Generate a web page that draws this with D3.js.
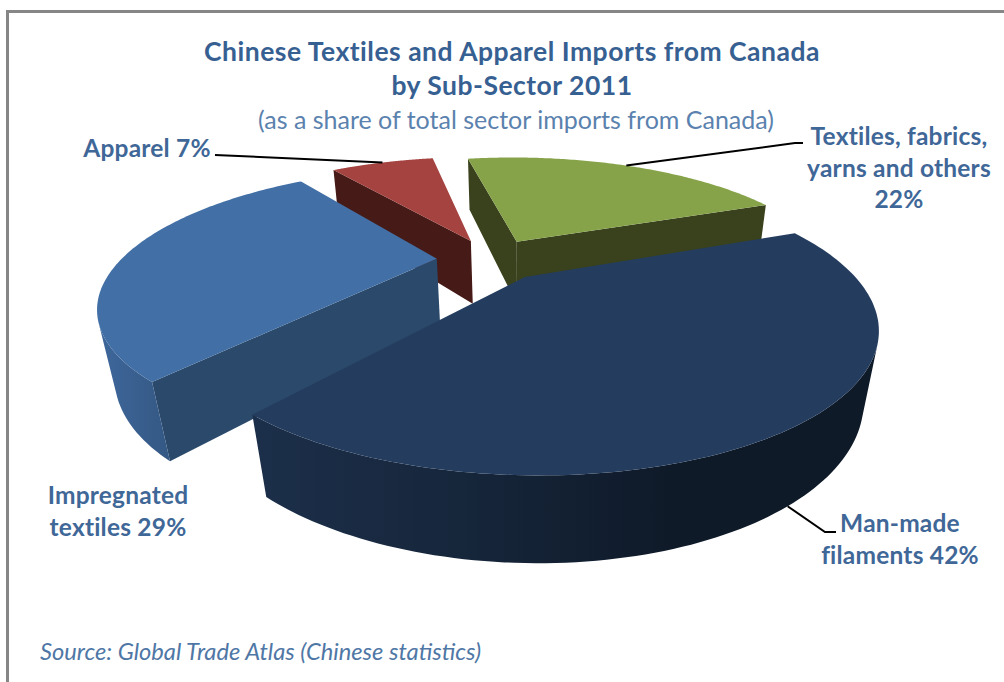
<!DOCTYPE html>
<html>
<head>
<meta charset="utf-8">
<script src="https://cdn.jsdelivr.net/npm/d3@7"></script>
<style>
  html, body { margin: 0; padding: 0; background: #fff; }
  svg { display: block; }
  text { font-family: Lato, "Open Sans", sans-serif; }
</style>
</head>
<body>
<svg id="chart" width="1004" height="682"></svg>
<script>
// Sub-sector shares, in clockwise order from the top of the pie
const categories = ["Textiles, fabrics, yarns and others", "Man-made filaments", "Impregnated textiles", "Apparel"];
const shares = [22, 42, 29, 7];
const topColors = ["#87a34a", "#243d5f", "#426fa5", "#a54340"];
const cutColors = ["#39421d", "#1b2d45", "#2b4a6b", "#451a17"];
const wallColors = [["#39421d", "#39421d"], ["#1c2f4a", "#16263b", "#0f1a29", "#0f1a29"], ["#3e679b", "#345884"], ["#451a17", "#451a17"]];

const titleLines = ["Chinese Textiles and Apparel Imports from Canada", "by Sub-Sector 2011"];
const subtitle = "(as a share of total sector imports from Canada)";
const sourceNote = "Source: Global Trade Atlas (Chinese statistics)";
const labelLines = [
  ["Textiles, fabrics,", "yarns and others", "22%"],
  ["Man-made", "filaments 42%"],
  ["Impregnated", "textiles 29%"],
  ["Apparel 7%"]
];

// Layout of the labels and leader lines
const labelAnchor = [[899, 145], [900, 532], [118, 504], [147, 157]];
const labelStep = 31.5;
const leaderBend = [[[795, 143], [803, 143]], [[825, 532], [836, 532]], null, [[215, 155]]];

// Off-axis perspective camera for the tilted pie
const origin = { x: 525, y: 277 };
const camera = { a: 337, b: 135, k: 0.34, drop: 70, recede: 0.04, shear: 0.07 };
const radius = 0.98, explode = 0.17;

function project(u, v, z) {
  const w = 1 - camera.k * v + camera.recede * z;
  const sheared = camera.shear * camera.b * v / w;
  return [origin.x + camera.a * u / w + sheared, origin.y + (camera.b * v + camera.drop * z) / w];
}
const dir = a => [Math.sin(a), -Math.cos(a)];

const svg = d3.select("#chart");
const defs = svg.append("defs");

// Frame of the chart area
svg.append("rect").attr("x", 7.5).attr("y", 11.5).attr("width", 1040).attr("height", 720)
  .attr("fill", "#fff").attr("stroke", "#868686").attr("stroke-width", 3);

const pie = d3.pie().sort(null).startAngle(-11 * Math.PI / 180).endAngle(349 * Math.PI / 180);
const arcs = pie(shares).map((d, i) => {
  const mid = (d.startAngle + d.endAngle) / 2;
  // every wedge slides out along its own bisector; the big one sets the plane origin
  return { ...d, i, mid, off: dir(mid) };
});
const navy = arcs[1];
const centre = [-explode * navy.off[0], -explode * navy.off[1]];
arcs.forEach(d => { d.apex = [centre[0] + explode * d.off[0], centre[1] + explode * d.off[1]]; });

const rim = (d, a) => { const p = dir(a); return [d.apex[0] + radius * p[0], d.apex[1] + radius * p[1]]; };
const poly = d3.line();
const shoelace = pts => d3.sum(pts, (p, i) => { const q = pts[(i + 1) % pts.length]; return p[0] * q[1] - q[0] * p[1]; });

const pieG = svg.append("g");
arcs.slice().sort((a, b) => a.apex[1] - b.apex[1]).forEach(d => {
  const steps = d3.range(0, 121).map(t => d.startAngle + (d.endAngle - d.startAngle) * t / 120);
  const ring = [d.apex, ...steps.map(a => rim(d, a))];
  const g = pieG.append("g");

  // walls: keep only the edges whose side faces the camera
  const quads = ring.map((p, j) => {
    const q = ring[(j + 1) % ring.length];
    const pts = [project(p[0], p[1], 0), project(q[0], q[1], 0), project(q[0], q[1], 1), project(p[0], p[1], 1)];
    return { pts, curved: j > 0 && j < ring.length - 1 };
  }).filter(q => shoelace(q.pts) < 0);

  g.selectAll("path.cut").data(quads.filter(q => !q.curved)).join("path").attr("class", "cut")
    .attr("d", q => poly(q.pts) + "Z")
    .attr("fill", cutColors[d.i]);

  // the curved wall is one band shaded from left to right
  const curved = quads.filter(q => q.curved);
  if (curved.length) {
    const band = [...curved.map(q => q.pts[0]), curved[curved.length - 1].pts[1],
                  curved[curved.length - 1].pts[2], ...curved.map(q => q.pts[3]).reverse()];
    const xs = d3.extent(band, p => p[0]);
    const stops = wallColors[d.i];
    const grad = defs.append("linearGradient").attr("id", "wall" + d.i)
      .attr("gradientUnits", "userSpaceOnUse")
      .attr("x1", xs[0]).attr("x2", xs[1]).attr("y1", 0).attr("y2", 0);
    grad.selectAll("stop").data(stops).join("stop")
      .attr("offset", (c, k) => k / (stops.length - 1)).attr("stop-color", c => c);
    g.append("path").attr("d", poly(band) + "Z").attr("fill", "url(#wall" + d.i + ")");
  }

  g.append("path").attr("d", poly(ring.map(p => project(p[0], p[1], 0))) + "Z")
    .attr("fill", topColors[d.i]);
});

// Leader lines from each wedge's rim out to its label
arcs.forEach(d => {
  if (!leaderBend[d.i]) return;
  const r = rim(d, d.mid);
  const onFront = d.off[1] > 0;
  const start = project(r[0], r[1], onFront ? 1 : 0);
  svg.append("path").attr("d", poly([start, ...leaderBend[d.i]]))
    .attr("fill", "none").attr("stroke", "#000").attr("stroke-width", 2);
});

// Labels
const ink = "#3f6797";
labelLines.forEach((lines, i) => {
  const [x, y] = labelAnchor[i];
  lines.forEach((line, j) => {
    svg.append("text").attr("x", x).attr("y", y + j * labelStep)
      .attr("text-anchor", "middle").attr("font-size", 24.5).attr("font-weight", 700)
      .attr("letter-spacing", 0.2).attr("fill", ink).text(line);
  });
});

// Title block
titleLines.forEach((line, j) => {
  svg.append("text").attr("x", 512).attr("y", 61 + j * 34)
    .attr("text-anchor", "middle").attr("font-size", 26.5).attr("font-weight", 700)
    .attr("letter-spacing", 0.5).attr("fill", "#376092").text(line);
});
svg.append("text").attr("x", 516).attr("y", 129).attr("text-anchor", "middle")
  .attr("font-size", 25).attr("fill", "#5b82ae").text(subtitle);
svg.append("text").attr("x", 40).attr("y", 660).attr("font-size", 23.7)
  .attr("font-style", "italic").attr("fill", "#4f77a6").text(sourceNote);
</script>
</body>
</html>
